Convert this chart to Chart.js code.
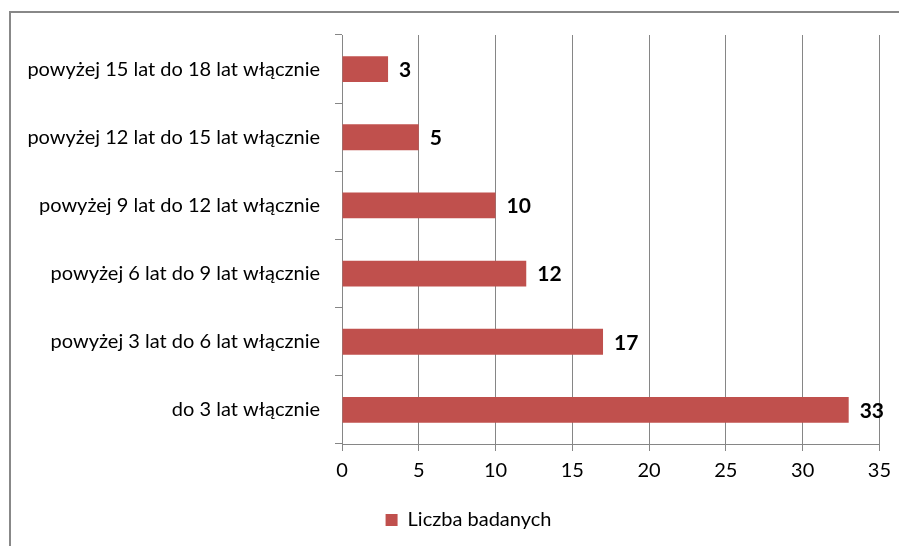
<!DOCTYPE html>
<html>
<head>
<meta charset="utf-8">
<script src="https://cdn.jsdelivr.net/npm/chart.js@4.4.1/dist/chart.umd.min.js"></script>
<style>
  html,body{margin:0;padding:0;background:#fff;overflow:hidden;}
  #wrap{position:relative;width:899px;height:546px;}
  #frame{position:absolute;left:9px;top:11px;width:1000px;height:1000px;border:2px solid #888;box-sizing:border-box;}
  canvas{position:absolute;left:0;top:0;}
</style>
</head>
<body>
<div id="wrap">
  <div id="frame"></div>
  <canvas id="c" width="899" height="546"></canvas>
</div>
<script>
  // Data
  const labels=['powyżej 15 lat do 18 lat włącznie','powyżej 12 lat do 15 lat włącznie','powyżej 9 lat do 12 lat włącznie','powyżej 6 lat do 9 lat włącznie','powyżej 3 lat do 6 lat włącznie','do 3 lat włącznie'];
  const values=[3,5,10,12,17,33];
  const seriesName='Liczba badanych';
  const xTicks=[0,5,10,15,20,25,30,35];

  const FONT='Lato';
  const RED='#c0504d', GRID='#868686', TXT='#000';

  // value labels right of each bar
  const valueLabels={
    id:'valueLabels',
    afterDatasetsDraw(chart){
      const ctx=chart.ctx, meta=chart.getDatasetMeta(0);
      ctx.save();
      ctx.font=`bold 21px ${FONT}`; ctx.fillStyle=TXT;
      ctx.textAlign='left'; ctx.textBaseline='middle';
      meta.data.forEach((bar,i)=>ctx.fillText(String(values[i]),bar.x+11,bar.y+1));
      ctx.restore();
    }
  };
  // legend sits a bit right of the canvas centre
  const legendShift={
    id:'legendShift',
    afterLayout(chart){ const l=chart.legend; if(l){l.left+=24; l.right+=24;} }
  };

  new Chart(document.getElementById('c'),{
    type:'bar',
    data:{labels,datasets:[{label:seriesName,data:values,backgroundColor:RED,borderWidth:0,barPercentage:0.38,categoryPercentage:1}]},
    options:{
      indexAxis:'y',responsive:false,animation:false,
      layout:{padding:{left:0,right:10,top:35,bottom:6}},
      plugins:{
        legend:{position:'bottom',labels:{color:TXT,font:{family:FONT,size:20},boxWidth:12,boxHeight:12,padding:10}},
        tooltip:{enabled:false}
      },
      scales:{
        x:{min:0,max:35,
          afterBuildTicks:s=>{s.ticks=xTicks.map(v=>({value:v}));},
          afterFit:s=>{s.height=56;},
          grid:{color:GRID,tickLength:7,tickColor:GRID},
          border:{color:GRID},
          ticks:{color:TXT,font:{family:FONT,size:20},padding:8}},
        y:{
          afterFit:s=>{s.width=342;},
          grid:{drawOnChartArea:false,tickLength:7,tickColor:GRID},
          border:{color:GRID},
          ticks:{color:TXT,font:{family:FONT,size:20},padding:15}}
      }
    },
    plugins:[valueLabels,legendShift]
  });
</script>
</body>
</html>
